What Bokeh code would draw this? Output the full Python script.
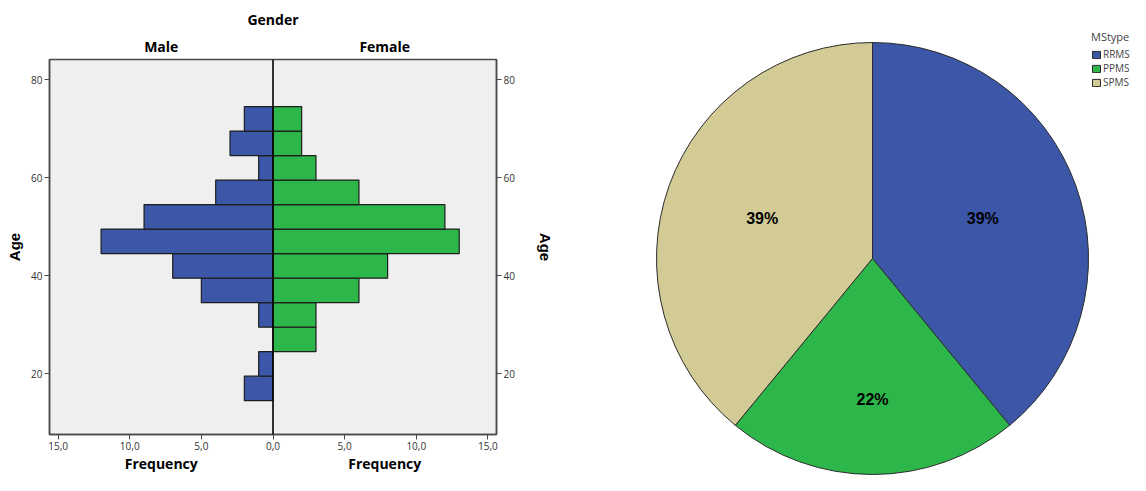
import math
from bokeh.plotting import figure
from bokeh.models import (Range1d, Span, FixedTicker, LinearAxis, Legend,
                          LegendItem, ColumnDataSource)
from bokeh.layouts import row
from bokeh.embed import file_html
from bokeh.resources import INLINE
from bokeh.core.properties import value

# ---------------- data ----------------
age_bin_lower = [14.5, 19.5, 24.5, 29.5, 34.5, 39.5, 44.5, 49.5, 54.5, 59.5, 64.5, 69.5]
male_counts = [2, 1, 0, 1, 5, 7, 12, 9, 4, 1, 3, 2]
female_counts = [0, 0, 3, 3, 6, 8, 13, 12, 6, 3, 2, 2]
bin_width = 5
freq_ticks = [-15, -10, -5, 0, 5, 10, 15]
freq_tick_labels = ["15,0", "10,0", "5,0", "0,0", "5,0", "10,0", "15,0"]
age_ticks = [20, 40, 60, 80]
gender_groups = ["Male", "Female"]

ms_types = ["RRMS", "PPMS", "SPMS"]
ms_counts = [41, 23, 41]

# ---------------- styles ----------------
BLUE = "#3c56a8"
GREEN = "#2db64a"
TAN = "#d3cb96"
FRAME_BG = "#efefef"
EDGE = "#4a4a4a"
BOLD_FONT = "Open Sans"

H = 475
W1 = 560
W2 = 1130 - W1

# ---------------- population pyramid ----------------
X0, X1 = -15.6, 15.6
Y0, Y1 = 7.6, 84.1
p = figure(width=W1, height=H, output_backend="svg", toolbar_location=None,
           x_range=Range1d(X0, X1), y_range=Range1d(Y0, Y1),
           min_border_left=49, min_border_right=W1 - 496, min_border_top=59,
           min_border_bottom=37, title="Gender")
p.frame_align = False
p.extra_x_ranges = {"half": Range1d(-1, 1)}
p.background_fill_color = FRAME_BG
p.border_fill_color = "white"
p.outline_line_color = EDGE
p.outline_line_width = 1.5
p.xgrid.visible = False
p.ygrid.visible = False
p.title.align = "center"
p.title.text_font = BOLD_FONT
p.title.text_font_style = "bold"
p.title.text_font_size = "14px"
p.title.text_color = "black"
p.title.standoff = 10

m_src = ColumnDataSource(dict(
    left=[-c for c in male_counts if c > 0],
    bottom=[b for c, b in zip(male_counts, age_bin_lower) if c > 0],
    top=[b + bin_width for c, b in zip(male_counts, age_bin_lower) if c > 0],
))
f_src = ColumnDataSource(dict(
    right=[c for c in female_counts if c > 0],
    bottom=[b for c, b in zip(female_counts, age_bin_lower) if c > 0],
    top=[b + bin_width for c, b in zip(female_counts, age_bin_lower) if c > 0],
))
p.quad(left="left", right=0, bottom="bottom", top="top", source=m_src,
       fill_color=BLUE, line_color="#1e1e1e", line_width=1.2)
p.quad(left=0, right="right", bottom="bottom", top="top", source=f_src,
       fill_color=GREEN, line_color="#1e1e1e", line_width=1.2)
p.add_layout(Span(location=0, dimension="height", line_color="black", line_width=1.6))


def style_axis(ax):
    ax.major_tick_out = 5
    ax.major_tick_in = 0
    ax.minor_tick_out = 0
    ax.minor_tick_in = 0
    ax.axis_line_color = EDGE
    ax.axis_line_width = 1.5
    ax.major_tick_line_color = EDGE
    ax.major_label_text_font = "Open Sans"
    ax.major_label_text_font_size = "10px"
    ax.major_label_text_color = "#333333"
    ax.major_label_standoff = 2
    ax.axis_label_text_font = "Liberation Sans"
    ax.axis_label_text_font_style = "bold"
    ax.axis_label_text_font_size = "15px"
    ax.axis_label_text_color = "black"


def header_axis(labels, standoff):
    ax = LinearAxis(x_range_name="half", ticker=FixedTicker(ticks=[-0.5, 0.5]),
                    major_label_overrides={-0.5: labels[0], 0.5: labels[1]})
    ax.major_tick_out = 0
    ax.major_tick_in = 0
    ax.minor_tick_out = 0
    ax.minor_tick_in = 0
    ax.axis_line_alpha = 0
    ax.major_label_standoff = standoff
    ax.major_label_text_font = BOLD_FONT
    ax.major_label_text_font_style = "bold"
    ax.major_label_text_font_size = "14px"
    ax.major_label_text_color = "black"
    return ax


xa = p.xaxis[0]
xa.ticker = FixedTicker(ticks=freq_ticks)
xa.major_label_overrides = {t: l for t, l in zip(freq_ticks, freq_tick_labels)}
style_axis(xa)
ya = p.yaxis[0]
ya.ticker = FixedTicker(ticks=age_ticks)
style_axis(ya)
ya.axis_label = "Age"
ya.axis_label_standoff = 5
ra = LinearAxis(ticker=FixedTicker(ticks=age_ticks), axis_label="Age")
style_axis(ra)
ra.axis_label_standoff = 19
p.add_layout(ra, "right")

p.add_layout(header_axis(gender_groups, 4), "above")
p.add_layout(header_axis(["Frequency", "Frequency"], 1), "below")

# ---------------- pie chart ----------------
R = 216
CX, CY = 312, 258  # pie centre in canvas px (from left / from top)
q = figure(width=W2, height=H, output_backend="svg", toolbar_location=None,
           x_range=Range1d(-CX, W2 - CX), y_range=Range1d(-(H - CY), CY),
           x_axis_location=None, y_axis_location=None, min_border=0)
q.frame_align = False
q.outline_line_color = None
q.xgrid.visible = False
q.ygrid.visible = False

total = sum(ms_counts)
cum = [0]
for c in ms_counts:
    cum.append(cum[-1] + c)
starts = [math.pi / 2 - 2 * math.pi * cum[i] / total for i in range(len(ms_counts))]
ends = [math.pi / 2 - 2 * math.pi * cum[i + 1] / total for i in range(len(ms_counts))]
mids = [(s + e) / 2 for s, e in zip(starts, ends)]
halves = [(s - e) / 2 for s, e in zip(starts, ends)]
# label distance: slightly beyond the centroid of each sector
dists = [1.06 * 2 * R * math.sin(a) / (3 * a) for a in halves]
pcts = ["%d%%" % round(100 * c / total) for c in ms_counts]

pie_src = ColumnDataSource(dict(type=ms_types, start=starts, end=ends,
                                color=[BLUE, GREEN, TAN]))
wr = q.wedge(x=0, y=0, radius=R, start_angle="start", end_angle="end",
             direction="clock", fill_color="color", line_color="#2a2a2a",
             line_width=1, source=pie_src)

q.text(x=[d * math.cos(a) for d, a in zip(dists, mids)],
       y=[d * math.sin(a) for d, a in zip(dists, mids)],
       text=pcts, text_align="center", text_baseline="middle",
       text_font=value("Liberation Sans"), text_font_style="bold",
       text_font_size="16px", text_color="black")

legend = Legend(items=[LegendItem(label=t, renderers=[wr], index=i)
                       for i, t in enumerate(ms_types)],
                location=(531, 386), title="MStype",
                title_text_font="Open Sans", title_text_font_size="11px",
                title_text_font_style="normal", title_standoff=3,
                label_text_font="Open Sans", label_text_font_size="10px",
                label_standoff=2, label_height=10, glyph_height=9, glyph_width=10,
                spacing=-2, padding=0, margin=0,
                background_fill_alpha=0, border_line_alpha=0)
q.add_layout(legend)

layout = row(p, q)
open("out.html", "w").write(file_html(layout, INLINE))
